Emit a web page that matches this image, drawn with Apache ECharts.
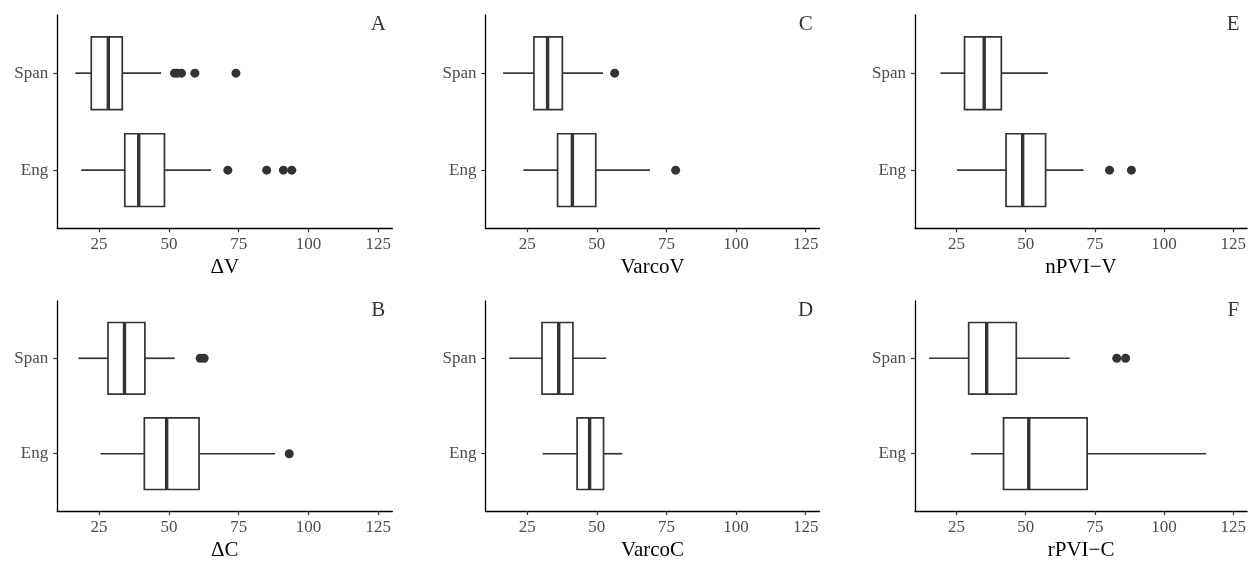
<!DOCTYPE html>
<html>
<head>
<meta charset="utf-8">
<script src="https://cdn.jsdelivr.net/npm/echarts@6/dist/echarts.min.js"></script>
<style>html,body{margin:0;padding:0;background:#fff;}#c{width:1249px;height:562px;}</style>
</head>
<body>
<div id="c"></div>
<script>
// ---- data ----
const categories = ['Eng', 'Span'];           // y = 1, 2
const xTicks = [25, 50, 75, 100, 125];
const panelLetters = ['A', 'C', 'E', 'B', 'D', 'F'];
const axisTitles = ['\u0394V', 'VarcoV', 'nPVI\u2212V', '\u0394C', 'VarcoC', 'rPVI\u2212C'];
// [lower whisker, Q1, median, Q3, upper whisker]
const engStats = [
  [18.6, 34.2, 39.2, 48.4, 65.1],
  [23.6, 35.9, 41.2, 49.6, 69.1],
  [25.2, 42.9, 48.9, 57.2, 70.9],
  [25.5, 41.2, 49.2, 60.8, 88.0],
  [30.5, 42.9, 47.4, 52.4, 59.1],
  [30.2, 42.0, 51.1, 72.2, 115.2]
];
const spanStats = [
  [16.5, 22.2, 28.3, 33.3, 47.2],
  [16.3, 27.4, 32.3, 37.6, 52.2],
  [19.2, 27.9, 35.0, 41.2, 58.0],
  [17.6, 28.2, 34.1, 41.4, 52.1],
  [18.5, 30.3, 36.3, 41.4, 53.3],
  [15.1, 29.4, 35.9, 46.6, 65.9]
];
const engOutliers = [
  [71.1, 85.0, 91.0, 94.0],
  [78.3],
  [80.3, 88.2],
  [93.1],
  [],
  []
];
const spanOutliers = [
  [52.0, 53.0, 54.5, 59.3, 74.0],
  [56.4],
  [],
  [61.2, 62.6],
  [],
  [82.9, 86.1]
];

// ---- layout ----
const colLeft = [57.2, 485.5, 915];
const colWidth = [335.1, 334.1, 332.9];
const rowTop = [15, 301];
const rowHeight = [213.3, 213];
const FONT = 'Liberation Serif';
const INK = '#333333';

const grids = [], xAxes = [], yAxes = [], series = [];

function renderBox(params, api) {
  const y = api.value(0);
  const lo = api.coord([api.value(1), y]);
  const q1 = api.coord([api.value(2), y]);
  const md = api.coord([api.value(3), y]);
  const q3 = api.coord([api.value(4), y]);
  const hi = api.coord([api.value(5), y]);
  const h = api.size([0, 0.75])[1];
  const cy = lo[1];
  const lw = 1.7;
  return {
    type: 'group',
    children: [
      { type: 'line', shape: { x1: lo[0], y1: cy, x2: q1[0], y2: cy }, style: { stroke: INK, lineWidth: lw } },
      { type: 'line', shape: { x1: q3[0], y1: cy, x2: hi[0], y2: cy }, style: { stroke: INK, lineWidth: lw } },
      { type: 'rect', shape: { x: q1[0], y: cy - h / 2, width: q3[0] - q1[0], height: h }, style: { fill: '#fff', stroke: INK, lineWidth: lw } },
      { type: 'line', shape: { x1: md[0], y1: cy - h / 2, x2: md[0], y2: cy + h / 2 }, style: { stroke: INK, lineWidth: 3.4 } }
    ]
  };
}

for (let i = 0; i < 6; i++) {
  const r = Math.floor(i / 3), c = i % 3;
  grids.push({ left: colLeft[c], top: rowTop[r], width: colWidth[c], height: rowHeight[r] });
  xAxes.push({
    gridIndex: i, type: 'value', min: 10, max: 130,
    name: axisTitles[i], nameLocation: 'middle', nameGap: 29,
    nameTextStyle: { fontFamily: FONT, fontSize: 21, color: '#000' },
    axisLine: { show: true, onZero: false, lineStyle: { color: '#000', width: 1.3 } },
    axisTick: { show: true, length: 4, customValues: xTicks, lineStyle: { color: '#333', width: 1.2 } },
    axisLabel: { customValues: xTicks, margin: 8, fontFamily: FONT, fontSize: 17, color: '#4d4d4d' },
    splitLine: { show: false }
  });
  yAxes.push({
    gridIndex: i, type: 'value', min: 0.4, max: 2.6,
    axisLine: { show: true, onZero: false, lineStyle: { color: '#000', width: 1.3 } },
    axisTick: { show: true, length: 4, customValues: [1, 2], lineStyle: { color: '#333', width: 1.2 } },
    axisLabel: { customValues: [1, 2], margin: 9, fontFamily: FONT, fontSize: 17, color: '#4d4d4d',
      formatter: v => categories[Math.round(v) - 1] },
    splitLine: { show: false }
  });
  series.push({
    type: 'custom', xAxisIndex: i, yAxisIndex: i,
    renderItem: renderBox,
    encode: { x: [1, 2, 3, 4, 5], y: 0 },
    data: [[1].concat(engStats[i]), [2].concat(spanStats[i])],
    silent: true, z: 2
  });
  series.push({
    type: 'scatter', xAxisIndex: i, yAxisIndex: i,
    symbol: 'circle', symbolSize: 9,
    itemStyle: { color: INK, opacity: 1 },
    data: engOutliers[i].map(v => [v, 1]).concat(spanOutliers[i].map(v => [v, 2])),
    silent: true, z: 3
  });
  series.push({
    type: 'scatter', xAxisIndex: i, yAxisIndex: i,
    symbol: 'circle', symbolSize: 1, itemStyle: { color: 'rgba(0,0,0,0)' },
    label: { show: true, position: 'inside', formatter: panelLetters[i], fontFamily: FONT, fontSize: 21, color: '#000' },
    data: [[125, 2.5]],
    silent: true, z: 4
  });
}

const chart = echarts.init(document.getElementById('c'), null, { renderer: 'canvas' });
chart.setOption({
  animation: false,
  backgroundColor: '#fff',
  grid: grids, xAxis: xAxes, yAxis: yAxes, series: series
});
</script>
</body>
</html>
